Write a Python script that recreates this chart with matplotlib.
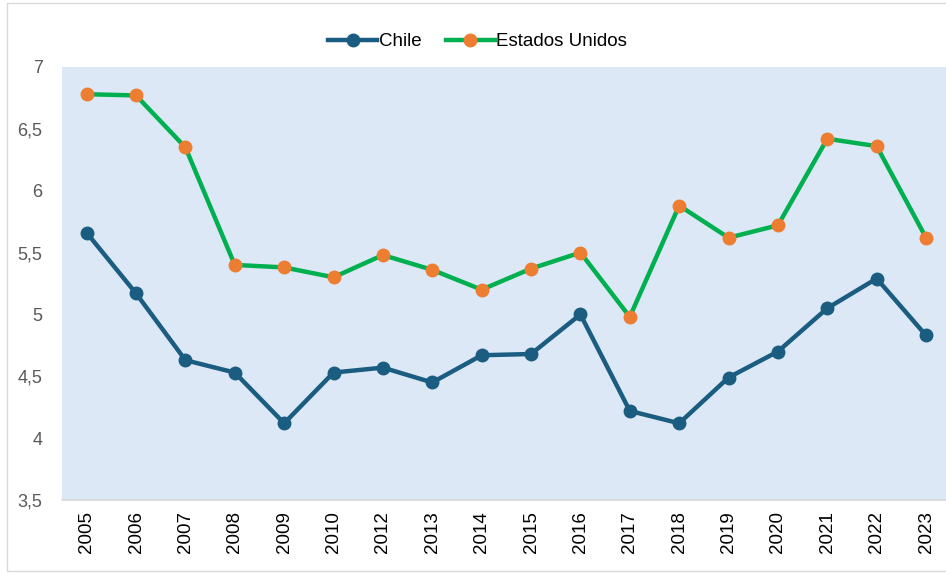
import matplotlib.pyplot as plt
from matplotlib.patches import Rectangle

years = ['2005', '2006', '2007', '2008', '2009', '2010', '2012', '2013', '2014',
         '2015', '2016', '2017', '2018', '2019', '2020', '2021', '2022', '2023']
chile = [5.66, 5.17, 4.63, 4.53, 4.12, 4.53, 4.57, 4.45, 4.67,
         4.68, 5.00, 4.22, 4.12, 4.49, 4.70, 5.05, 5.29, 4.83]
eeuu = [6.78, 6.77, 6.35, 5.40, 5.38, 5.30, 5.48, 5.36, 5.20,
        5.37, 5.50, 4.98, 5.88, 5.62, 5.72, 6.42, 6.36, 5.62]
yticks = [3.5, 4, 4.5, 5, 5.5, 6, 6.5, 7]

plt.rcParams['font.family'] = ['Liberation Sans', 'DejaVu Sans']

fig = plt.figure(figsize=(9.46, 5.73), dpi=100)
ax = fig.add_axes([0.0655, 0.1274, 0.9395, 0.7557])
ax.set_facecolor('#DCE8F5')

x = range(len(years))
ax.plot(x, chile, color='#1A5D80', lw=3.2, marker='o', ms=9,
        mfc='#1A5D80', mec='#1A5D80', label='Chile', zorder=3)
ax.plot(x, eeuu, color='#00B050', lw=3.2, marker='o', ms=9,
        mfc='#ED7D31', mec='#ED7D31', label='Estados Unidos', zorder=3)

ax.set_xlim(-0.5, len(years) - 0.5)
ax.set_ylim(3.5, 7)
ax.set_xticks(list(x))
ax.set_xticklabels(years, rotation=90, fontsize=13.5, color='black')
ax.set_yticks(yticks)
ax.set_yticklabels([('%g' % v).replace('.', ',') for v in yticks],
                   fontsize=13, color='#595959')
ax.tick_params(length=0, pad=8)
ax.tick_params(axis='y', pad=14)
for s in ['top', 'right', 'left']:
    ax.spines[s].set_visible(False)
ax.spines['bottom'].set_color('#D9D9D9')
ax.spines['bottom'].set_linewidth(1.2)

fig.legend(*ax.get_legend_handles_labels(), loc='center',
           bbox_to_anchor=(0.505, 0.927), ncol=2, frameon=False,
           fontsize=13.5, handlelength=2.6, handletextpad=0.1, columnspacing=1.3)

fig.patches.append(Rectangle((0.0075, 0.004), 1.0, 0.99, transform=fig.transFigure,
                             fill=False, ec='#D9D9D9', lw=1))

fig.savefig('out.png', dpi=100)
